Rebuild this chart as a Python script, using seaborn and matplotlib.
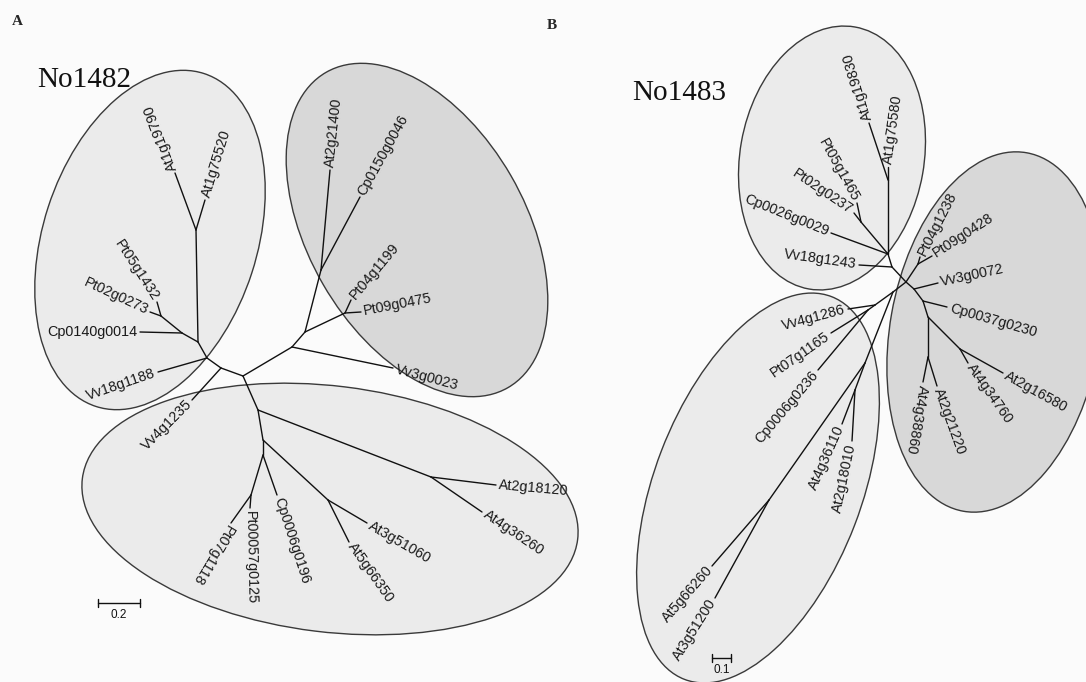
"""Two unrooted gene trees (No1482 / No1483) with clade ellipses."""

import matplotlib

matplotlib.use("Agg")
import matplotlib.pyplot as plt
import numpy as np
import pandas as pd
import seaborn as sns
from matplotlib.patches import Ellipse

# ---- tree A (No1482): node positions, pixel units ----
a_inner_names = ["r", "l1", "l2", "l3", "at", "l4", "pt",
                 "r1", "r2", "r3", "r4", "b1", "b2", "b3", "b4", "b5", "b6"]
a_inner_x = [243, 221, 207, 198, 196, 182, 161, 292, 305, 321, 345, 258, 263, 263, 431, 328, 251]
a_inner_y = [376, 368, 358, 342, 230, 333, 316, 347, 332, 270, 313, 410, 440, 455, 477, 500, 495]

a_leaf_names = ["At1g19790", "At1g75520", "Pt05g1432", "Pt02g0273", "Cp0140g0014",
                "Vv18g1188", "Vv4g1235", "At2g21400", "Cp0150g0046", "Pt04g1199",
                "Pt09g0475", "Vv3g0023", "At2g18120", "At4g36260", "At3g51060",
                "At5g66350", "Cp0006g0196", "Pt00057g0125", "Pt07g1118"]
a_leaf_x = [175, 205, 157, 150, 140, 158, 192, 330, 360, 351, 361, 393, 496, 482, 367, 349, 277, 250, 231]
a_leaf_y = [173, 200, 302, 312, 332, 372, 400, 170, 197, 300, 312, 368, 485, 512, 523, 542, 495, 508, 523]
a_leaf_angle = [111, 73, -57, -25, 0, 19, 45, 84, 61, 50, 11, -15, -5, -34, -30, -55, -72, -89, -121]
a_leaf_flip = [0, 0, 1, 1, 1, 1, 1, 0, 0, 0, 0, 0, 0, 0, 0, 0, 0, 0, 0]

a_edges = [("r", "l1"), ("l1", "Vv4g1235"), ("l1", "l2"), ("l2", "Vv18g1188"), ("l2", "l3"),
           ("l3", "at"), ("at", "At1g19790"), ("at", "At1g75520"), ("l3", "l4"),
           ("l4", "Cp0140g0014"), ("l4", "pt"), ("pt", "Pt05g1432"), ("pt", "Pt02g0273"),
           ("r", "r1"), ("r1", "Vv3g0023"), ("r1", "r2"), ("r2", "r3"),
           ("r3", "At2g21400"), ("r3", "Cp0150g0046"), ("r2", "r4"),
           ("r4", "Pt04g1199"), ("r4", "Pt09g0475"),
           ("r", "b1"), ("b1", "b4"), ("b4", "At2g18120"), ("b4", "At4g36260"),
           ("b1", "b2"), ("b2", "b5"), ("b5", "At3g51060"), ("b5", "At5g66350"),
           ("b2", "b3"), ("b3", "Cp0006g0196"), ("b3", "b6"),
           ("b6", "Pt00057g0125"), ("b6", "Pt07g1118")]

# ---- tree B (No1483) ----
b_inner_names = ["c", "t3", "t2", "t1", "tp", "p", "r1", "r2", "r3", "r5", "r4",
                 "d1", "d2", "d2b", "d3", "d4", "d5"]
b_inner_x = [906, 892, 888, 888, 861, 918, 914, 923, 928, 928, 960, 893, 875, 868, 865, 855, 769]
b_inner_y = [282, 267, 254, 180, 222, 264, 289, 301, 317, 357, 349, 292, 305, 310, 363, 390, 500]

b_leaf_names = ["At1g19830", "At1g75580", "Pt05g1465", "Pt02g0237", "Cp0026g0029",
                "Vv18g1243", "Pt04g1238", "Pt09g0428", "Vv3g0072", "Cp0037g0230",
                "At2g16580", "At4g34760", "At2g21220", "At4g38860", "Vv4g1286",
                "Pt07g1165", "Cp0006g0236", "At4g36110", "At2g18010", "At5g66260", "At3g51200"]
b_leaf_x = [869, 888, 857, 854, 831, 859, 920, 932, 938, 947, 1003, 968, 937, 923, 848, 831, 818, 842, 852, 712, 715]
b_leaf_y = [123, 167, 203, 213, 233, 265, 257, 256, 283, 307, 373, 363, 386, 382, 309, 333, 370, 424, 441, 566, 598]
b_leaf_angle = [107, 82, -61, -34, -22, -8, 63, 33, 12, -16, -29, -55, -70, -100, 15, 35, 50, 66, 78, 49, 58]
b_leaf_flip = [0, 0, 1, 1, 1, 1, 0, 0, 0, 0, 0, 0, 0, 0, 1, 1, 1, 1, 1, 1, 1]

b_edges = [("c", "t3"), ("t3", "t2"), ("t3", "Vv18g1243"), ("t2", "t1"), ("t2", "tp"),
           ("t2", "Cp0026g0029"), ("t1", "At1g19830"), ("t1", "At1g75580"),
           ("tp", "Pt05g1465"), ("tp", "Pt02g0237"),
           ("c", "p"), ("p", "Pt04g1238"), ("p", "Pt09g0428"),
           ("c", "r1"), ("r1", "Vv3g0072"), ("r1", "r2"), ("r2", "Cp0037g0230"),
           ("r2", "r3"), ("r3", "r5"), ("r3", "r4"), ("r5", "At4g38860"),
           ("r5", "At2g21220"), ("r4", "At4g34760"), ("r4", "At2g16580"),
           ("c", "d1"), ("d1", "d2"), ("d2", "Vv4g1286"), ("d2", "d2b"),
           ("d2b", "Pt07g1165"), ("d2b", "Cp0006g0236"), ("d1", "d3"), ("d3", "d4"),
           ("d3", "d5"), ("d4", "At4g36110"), ("d4", "At2g18010"),
           ("d5", "At5g66260"), ("d5", "At3g51200")]

# clade ellipses: centre, full axes, tilt, shade
ell_cx = [150, 417, 330, 832, 995, 758]
ell_cy = [240, 230, 509, 158, 332, 488]
ell_w = [350, 364, 499, 266, 364, 410]
ell_h = [214, 217, 246, 184, 210, 207]
ell_angle = [108, 60, 7, 100, 100, 111]
ell_color = ["#ebebeb", "#d8d8d8", "#ebebeb", "#ebebeb", "#d8d8d8", "#ebebeb"]

sns.set_theme(style="white")
plt.rcParams["font.family"] = ["Liberation Sans", "DejaVu Sans"]


def tree_segments(tag, inner_names, inner_x, inner_y, leaf_names, leaf_x, leaf_y, edges):
    pos = {n: (x, y) for n, x, y in zip(inner_names, inner_x, inner_y)}
    pos.update({n: (x, y) for n, x, y in zip(leaf_names, leaf_x, leaf_y)})
    rows = []
    for i, (p, c) in enumerate(edges):
        for node in (p, c):
            rows.append({"edge": f"{tag}{i}", "x": pos[node][0], "y": pos[node][1]})
    return pd.DataFrame(rows)


def draw_labels(ax, names, xs, ys, angles, flips, gap=3.0):
    for name, x, y, ang, flip in zip(names, xs, ys, angles, flips):
        dx, dy = np.cos(np.radians(ang)), -np.sin(np.radians(ang))
        if flip:
            tx, ty, ha = x - gap * dx, y - gap * dy, "right"
        else:
            tx, ty, ha = x + gap * dx, y + gap * dy, "left"
        ax.text(tx, ty, name, rotation=ang, rotation_mode="anchor", ha=ha,
                va="center", fontsize=10.4, color="#1a1a1a")


fig = plt.figure(figsize=(10.86, 6.82), dpi=100, facecolor="#fbfbfb")
ax = fig.add_axes([0, 0, 1, 1])
ax.set_facecolor("#fbfbfb")

for cx, cy, w, h, ang, col in zip(ell_cx, ell_cy, ell_w, ell_h, ell_angle, ell_color):
    ax.add_patch(Ellipse((cx, cy), w, h, angle=ang, facecolor=col,
                         edgecolor="#3a3a3a", lw=1.0, zorder=1))

seg = pd.concat([
    tree_segments("a", a_inner_names, a_inner_x, a_inner_y, a_leaf_names, a_leaf_x, a_leaf_y, a_edges),
    tree_segments("b", b_inner_names, b_inner_x, b_inner_y, b_leaf_names, b_leaf_x, b_leaf_y, b_edges),
])
sns.lineplot(data=seg, x="x", y="y", units="edge", estimator=None, sort=False,
             color="#111111", lw=1.0, ax=ax, zorder=3)

draw_labels(ax, a_leaf_names, a_leaf_x, a_leaf_y, a_leaf_angle, a_leaf_flip)
draw_labels(ax, b_leaf_names, b_leaf_x, b_leaf_y, b_leaf_angle, b_leaf_flip)

# titles and panel letters
ax.text(37, 87, "No1482", fontsize=21, family=["Liberation Serif"], color="#111111", va="baseline")
ax.text(632, 100, "No1483", fontsize=21, family=["Liberation Serif"], color="#111111", va="baseline")
ax.text(12, 25, "A", fontsize=11, family=["Liberation Serif"], weight="bold", va="baseline")
ax.text(547, 29, "B", fontsize=11, family=["Liberation Serif"], weight="bold", va="baseline")

# scale bars (0.2 and 0.1 substitutions per site)
for x0, y0, length, px_per_unit, text in [(97.5, 603, 0.2, 212, "0.2"), (712, 658, 0.1, 190, "0.1")]:
    x1 = x0 + length * px_per_unit
    ax.plot([x0, x1], [y0, y0], color="#111111", lw=1.0)
    ax.plot([x0, x0], [y0 - 4, y0 + 4], color="#111111", lw=1.0)
    ax.plot([x1, x1], [y0 - 4, y0 + 4], color="#111111", lw=1.0)
    ax.text((x0 + x1) / 2, y0 + 6, text, ha="center", va="top", fontsize=8.5, color="#111111")

ax.set_xlim(0, 1086)
ax.set_ylim(682, 0)
ax.set_axis_off()
fig.savefig("out.png", dpi=100, facecolor=fig.get_facecolor())
